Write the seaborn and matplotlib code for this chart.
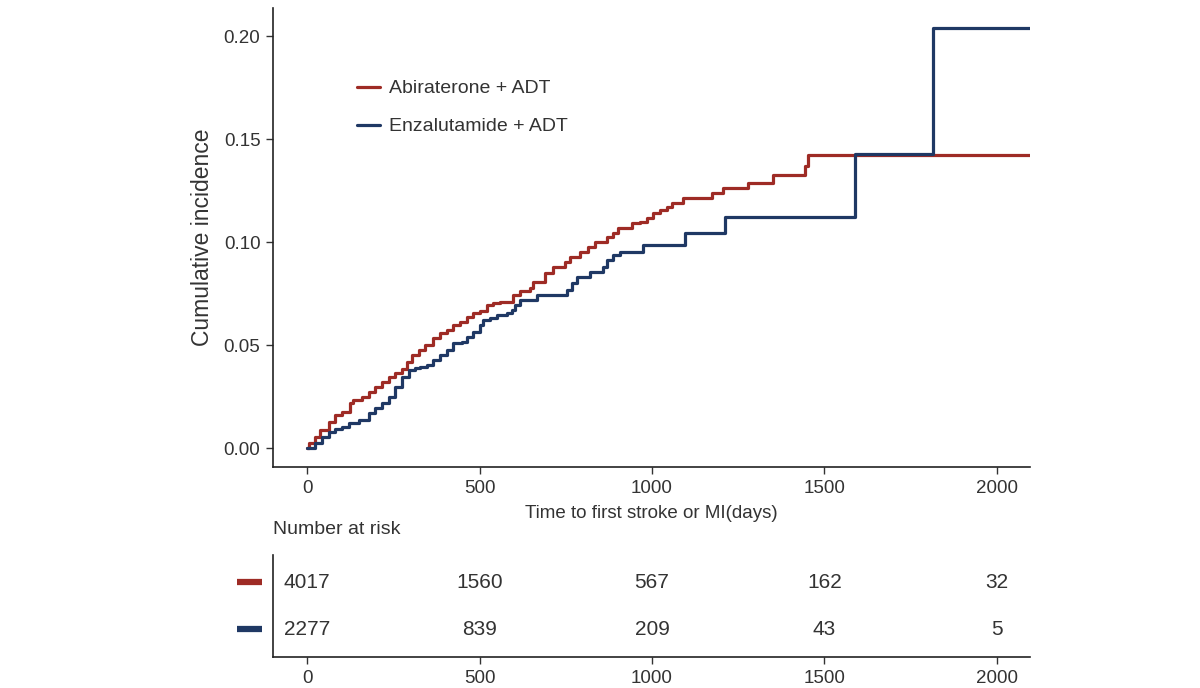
import pandas as pd
import matplotlib
matplotlib.use("Agg")
import matplotlib.pyplot as plt
import seaborn as sns

# Cumulative incidence steps (days, incidence)
abi_days = [0, 4, 23, 38, 62, 81, 101, 125, 134, 159, 178, 197, 217, 236, 255, 274,
            289, 303, 323, 342, 366, 386, 405, 424, 443, 463, 482, 501, 521, 540, 559,
            597, 617, 646, 655, 690, 713, 748, 762, 791, 814, 835, 869, 888, 902, 941,
            965, 985, 1004, 1023, 1043, 1057, 1091, 1173, 1207, 1279, 1352, 1443, 1452, 2150]
abi_inc = [0.0, 0.0023, 0.0055, 0.0087, 0.0128, 0.0160, 0.0176, 0.0217, 0.0233, 0.0249,
           0.0273, 0.0298, 0.0322, 0.0346, 0.0363, 0.0382, 0.0419, 0.0451, 0.0476, 0.0500,
           0.0533, 0.0557, 0.0573, 0.0597, 0.0613, 0.0637, 0.0654, 0.0667, 0.0694, 0.0702,
           0.0710, 0.0743, 0.0764, 0.0775, 0.0806, 0.0850, 0.0879, 0.0903, 0.0927, 0.0951,
           0.0976, 0.1000, 0.1026, 0.1042, 0.1066, 0.1091, 0.1099, 0.1115, 0.1139, 0.1155,
           0.1171, 0.1188, 0.1212, 0.1236, 0.1261, 0.1288, 0.1325, 0.1369, 0.1420, 0.1420]

enz_days = [0, 23, 43, 62, 81, 101, 120, 149, 178, 197, 217, 236, 255, 274, 294, 313,
            328, 347, 366, 386, 405, 424, 448, 463, 482, 501, 511, 530, 550, 579, 593,
            603, 617, 667, 754, 768, 783, 820, 859, 869, 888, 907, 975, 1096, 1212, 1588,
            1815, 2150]
enz_inc = [0.0, 0.0023, 0.0055, 0.0079, 0.0091, 0.0103, 0.0120, 0.0136, 0.0168, 0.0193,
           0.0217, 0.0249, 0.0298, 0.0346, 0.0379, 0.0387, 0.0392, 0.0403, 0.0427, 0.0451,
           0.0476, 0.0508, 0.0516, 0.0540, 0.0565, 0.0597, 0.0621, 0.0633, 0.0646, 0.0654,
           0.0670, 0.0694, 0.0718, 0.0743, 0.0767, 0.0801, 0.0830, 0.0854, 0.0880, 0.0913,
           0.0937, 0.0953, 0.0988, 0.1045, 0.1123, 0.1426, 0.2037, 0.2037]

groups = ["Abiraterone + ADT", "Enzalutamide + ADT"]
colors = {"Abiraterone + ADT": "#9E2B25", "Enzalutamide + ADT": "#1F3864"}

# Number at risk table
risk_times = [0, 500, 1000, 1500, 2000]
risk_abi = [4017, 1560, 567, 162, 32]
risk_enz = [2277, 839, 209, 43, 5]

df = pd.concat([
    pd.DataFrame({"days": abi_days, "inc": abi_inc, "group": groups[0]}),
    pd.DataFrame({"days": enz_days, "inc": enz_inc, "group": groups[1]}),
])

sns.set_theme(style="white")
plt.rcParams["font.family"] = ["Liberation Sans", "DejaVu Sans"]
txt = "#333333"

fig = plt.figure(figsize=(12, 6.88), dpi=100)
ax = fig.add_axes([0.2275, 0.3212, 0.6308, 0.6672])
ax_tab = fig.add_axes([0.2275, 0.045, 0.6308, 0.148])

sns.lineplot(data=df, x="days", y="inc", hue="group", palette=colors, estimator=None,
             drawstyle="steps-post", linewidth=2.3, ax=ax)

ax.set_xlim(-99, 2096)
ax.set_ylim(-0.0092, 0.2136)
ax.set_xticks(risk_times)
ax.set_yticks([0, 0.05, 0.10, 0.15, 0.20])
ax.set_yticklabels(["0.00", "0.05", "0.10", "0.15", "0.20"])
ax.set_xlabel("Time to first stroke or MI(days)", fontsize=13.5, color=txt, labelpad=6)
ax.set_ylabel("Cumulative incidence", fontsize=16.5, color=txt, labelpad=7)
sns.despine(ax=ax)
for a in (ax, ax_tab):
    for s in ("left", "bottom"):
        a.spines[s].set_color("#222222")
        a.spines[s].set_linewidth(1.2)
    a.tick_params(axis="both", which="major", length=5, width=1.0, color="#333333",
                  labelsize=13.5, labelcolor=txt, bottom=True, left=True, pad=4)

leg = ax.legend(loc="center left", bbox_to_anchor=(0.111, 0.783), frameon=False,
                fontsize=14, handlelength=1.2, handletextpad=0.46, labelspacing=1.05,
                borderaxespad=0, borderpad=0, title=None)
for t in leg.get_texts():
    t.set_color(txt)
for h in leg.get_lines():
    h.set_linewidth(2.3)

# risk table
ax_tab.set_xlim(-99, 2096)
ax_tab.set_ylim(0.402, 2.576)
ax_tab.set_xticks(risk_times)
ax_tab.set_yticks([])
sns.despine(ax=ax_tab)
for t, n1, n2 in zip(risk_times, risk_abi, risk_enz):
    ax_tab.text(t, 2, str(n1), ha="center", va="center", fontsize=15, color=txt)
    ax_tab.text(t, 1, str(n2), ha="center", va="center", fontsize=15, color=txt)
for yv, g in [(2, groups[0]), (1, groups[1])]:
    ax_tab.plot([-0.0476, -0.0145], [yv, yv], color=colors[g], lw=4.5, solid_capstyle="butt",
                transform=ax_tab.get_yaxis_transform(), clip_on=False)
fig.text(273 / 1200, 1 - 530 / 688, "Number at risk", ha="left", va="center",
         fontsize=14, color=txt)

fig.savefig("out.png", dpi=100)
